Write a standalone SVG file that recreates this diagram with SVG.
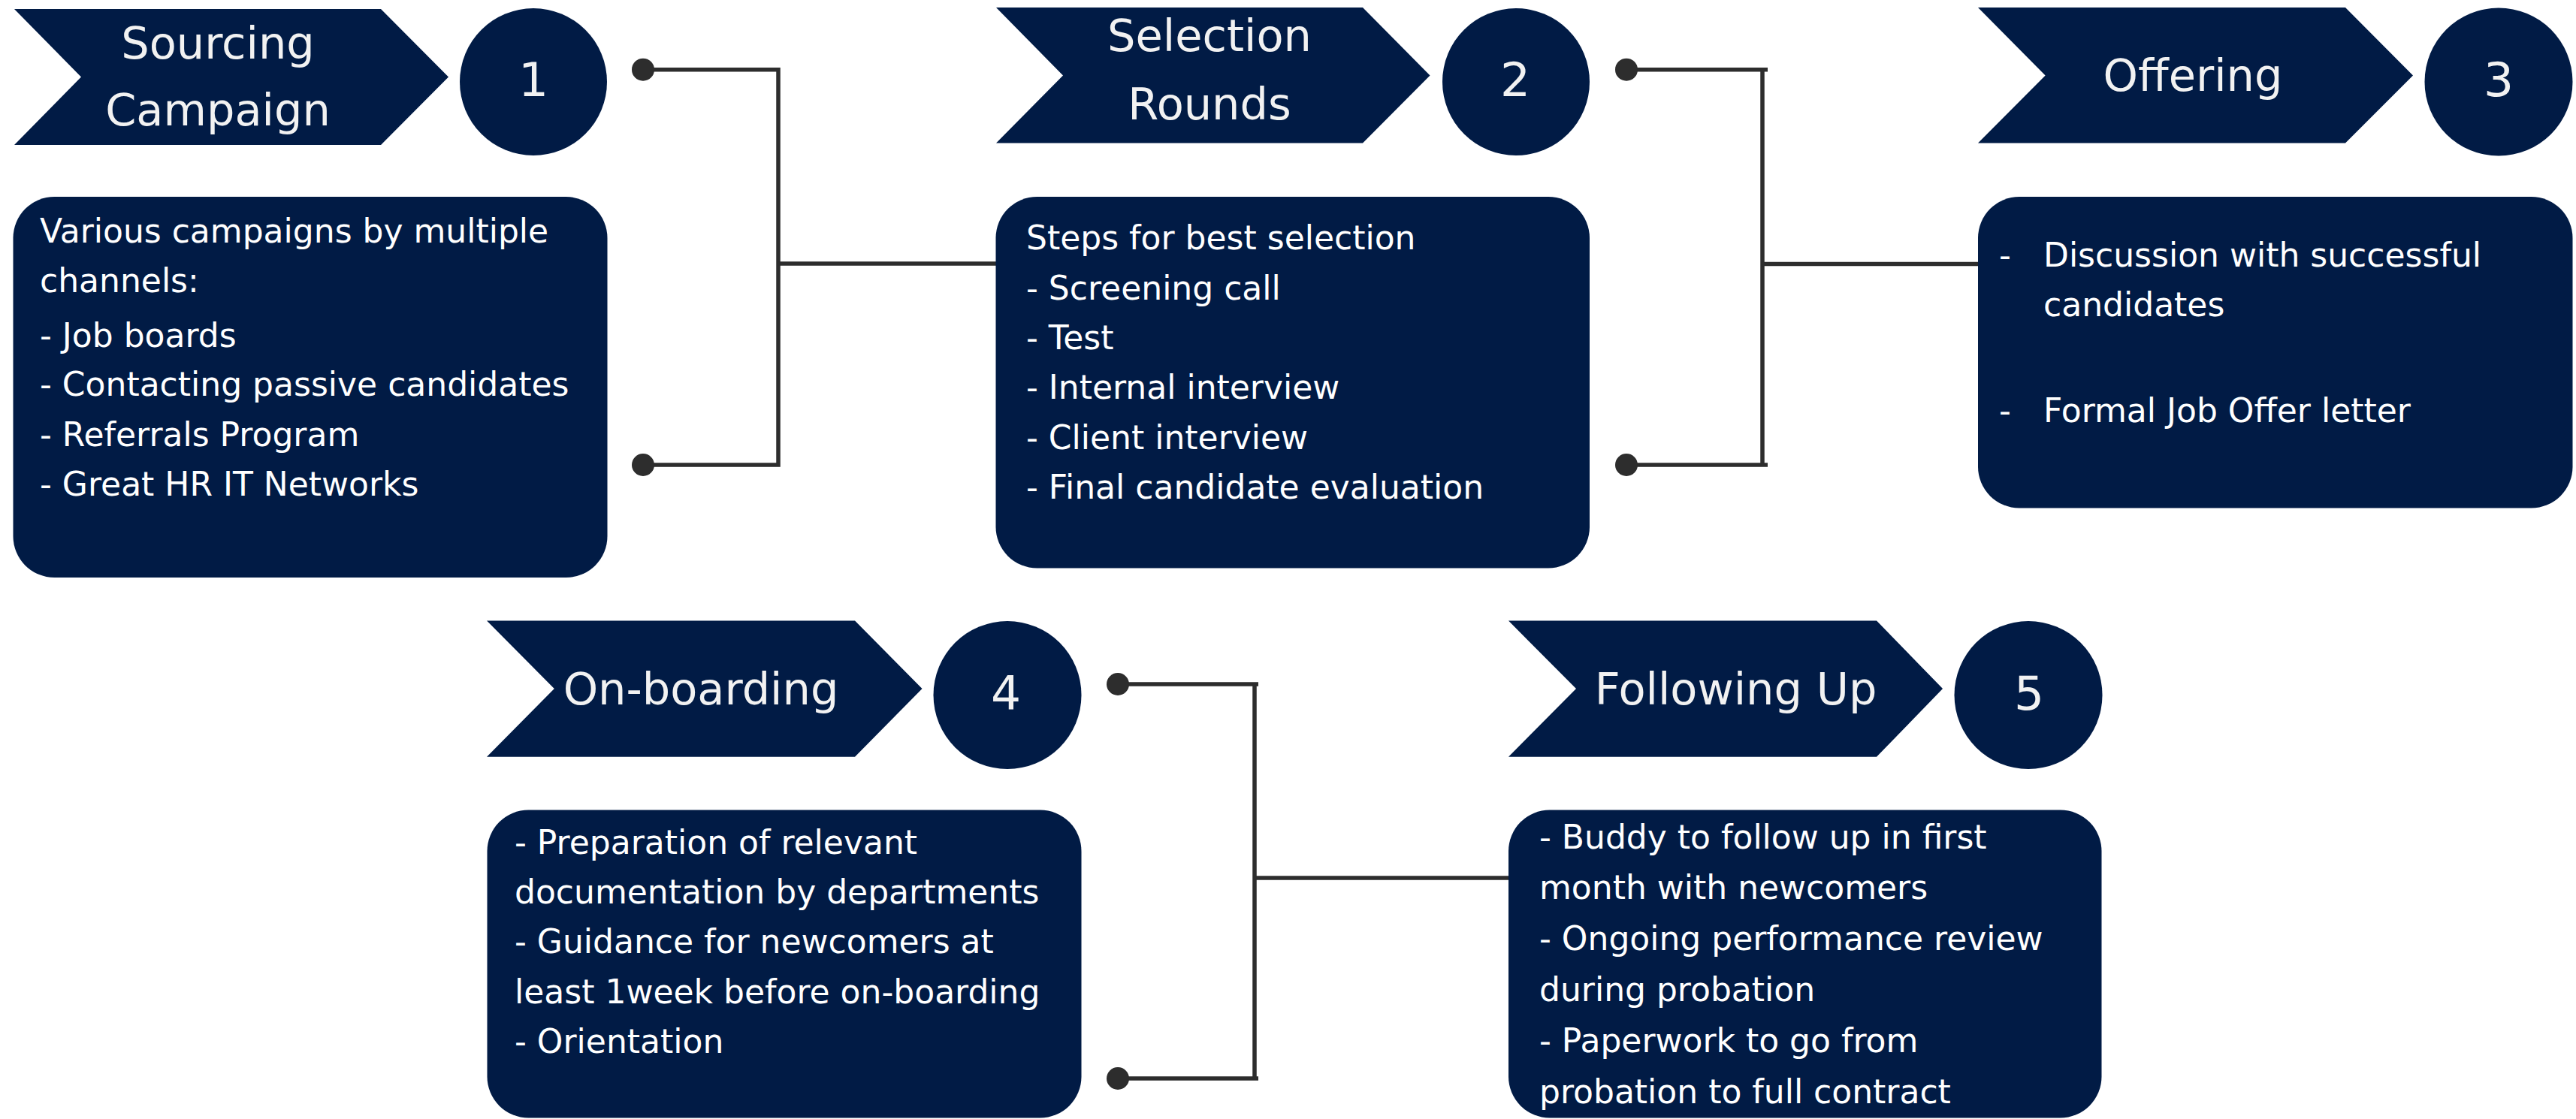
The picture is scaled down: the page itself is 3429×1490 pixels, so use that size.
<svg xmlns="http://www.w3.org/2000/svg" width="3429" height="1490" viewBox="0 0 3429 1490">
<style>
.shape{fill:#011b45}
.title{font-family:"DejaVu Sans","Liberation Sans",sans-serif;font-size:59px;fill:#f2f2f2;text-anchor:middle}
.num{font-family:"DejaVu Sans","Liberation Sans",sans-serif;font-size:63px;fill:#f2f2f2;text-anchor:middle}
.body{font-family:"DejaVu Sans","Liberation Sans",sans-serif;font-size:44px;fill:#ffffff}
.conn{stroke:#2d2d2d;stroke-width:5.5;fill:none}
.dot{fill:#2d2d2d}
</style>
<rect width="3429" height="1490" fill="#ffffff"/>
<g id="connectors">
  <g id="conn-1">
    <polyline class="conn" points="856,92.7 1036,92.7 1036,619 856,619"/>
    <line class="conn" x1="1036" y1="351" x2="1327" y2="351"/>
    <circle class="dot" cx="856" cy="92.7" r="15"/>
    <circle class="dot" cx="856" cy="619" r="15"/>
  </g>
  <g id="conn-2">
    <line class="conn" x1="2165" y1="92.7" x2="2353" y2="92.7"/>
    <line class="conn" x1="2165" y1="619" x2="2353" y2="619"/>
    <line class="conn" x1="2346" y1="92.7" x2="2346" y2="619"/>
    <line class="conn" x1="2346" y1="351.5" x2="2643" y2="351.5"/>
    <circle class="dot" cx="2165" cy="92.7" r="15"/>
    <circle class="dot" cx="2165" cy="619" r="15"/>
  </g>
  <g id="conn-4">
    <line class="conn" x1="1488" y1="911" x2="1675" y2="911"/>
    <line class="conn" x1="1488" y1="1436" x2="1675" y2="1436"/>
    <line class="conn" x1="1670" y1="911" x2="1670" y2="1436"/>
    <line class="conn" x1="1670" y1="1169" x2="2009" y2="1169"/>
    <circle class="dot" cx="1488" cy="911" r="15"/>
    <circle class="dot" cx="1488" cy="1436" r="15"/>
  </g>
</g>
<g id="step1">
  <polygon class="shape" points="19,12 507,12 597,102.5 507,193 19,193 108,102.5"/>
  <text class="title" x="290" y="77.5">Sourcing</text>
  <text class="title" x="290" y="167">Campaign</text>
  <circle class="shape" cx="710" cy="109" r="98"/>
  <text class="num" x="710" y="128">1</text>
</g>
<g id="box1">
  <rect class="shape" x="17.5" y="262" width="791" height="507" rx="55" ry="55"/>
  <text class="body" x="53">
    <tspan x="53" y="323">Various campaigns by multiple</tspan>
    <tspan x="53" y="389">channels:</tspan>
    <tspan x="53" y="461.5">- Job boards</tspan>
    <tspan x="53" y="527">- Contacting passive candidates</tspan>
    <tspan x="53" y="593.5">- Referrals Program</tspan>
    <tspan x="53" y="660">- Great HR IT Networks</tspan>
  </text>
</g>
<g id="step2">
  <polygon class="shape" points="1326,10 1814,10 1903.5,100.5 1814,190.5 1326,190.5 1415,100.5"/>
  <text class="title" x="1610" y="68">Selection</text>
  <text class="title" x="1610" y="159">Rounds</text>
  <circle class="shape" cx="2018" cy="109" r="98"/>
  <text class="num" x="2017" y="128">2</text>
</g>
<g id="box2">
  <rect class="shape" x="1325.5" y="262" width="790.5" height="494.5" rx="55" ry="55"/>
  <text class="body">
    <tspan x="1366" y="332">Steps for best selection</tspan>
    <tspan x="1366" y="398.5">- Screening call</tspan>
    <tspan x="1366" y="465">- Test</tspan>
    <tspan x="1366" y="531">- Internal interview</tspan>
    <tspan x="1366" y="597.5">- Client interview</tspan>
    <tspan x="1366" y="664">- Final candidate evaluation</tspan>
  </text>
</g>
<g id="step3">
  <polygon class="shape" points="2633,10 3122,10 3212,100.5 3122,190.5 2633,190.5 2722.6,100.5"/>
  <text class="title" x="2919" y="121">Offering</text>
  <circle class="shape" cx="3326" cy="109" r="98.5"/>
  <text class="num" x="3326" y="128">3</text>
</g>
<g id="box3">
  <rect class="shape" x="2633" y="262" width="791.5" height="414.5" rx="55" ry="55"/>
  <text class="body">
    <tspan x="2661" y="354.5">-</tspan>
    <tspan x="2720" y="354.5">Discussion with successful</tspan>
    <tspan x="2720" y="421">candidates</tspan>
    <tspan x="2661" y="561.5">-</tspan>
    <tspan x="2720" y="561.5">Formal Job Offer letter</tspan>
  </text>
</g>
<g id="step4">
  <polygon class="shape" points="648,826.6 1138,826.6 1227.5,917 1138,1007.8 648,1007.8 737.8,917"/>
  <text class="title" x="933" y="937.5">On-boarding</text>
  <circle class="shape" cx="1341" cy="925.5" r="98.5"/>
  <text class="num" x="1339" y="944.5">4</text>
</g>
<g id="box4">
  <rect class="shape" x="648.5" y="1078.5" width="791" height="410" rx="55" ry="55"/>
  <text class="body">
    <tspan x="685" y="1136.5">- Preparation of relevant</tspan>
    <tspan x="685" y="1202.5">documentation by departments</tspan>
    <tspan x="685" y="1268.5">- Guidance for newcomers at</tspan>
    <tspan x="685" y="1336">least 1week before on-boarding</tspan>
    <tspan x="685" y="1401.5">- Orientation</tspan>
  </text>
</g>
<g id="step5">
  <polygon class="shape" points="2008,826.6 2498,826.6 2586,917 2498,1007.8 2008,1007.8 2098,917"/>
  <text class="title" x="2310.5" y="937.5">Following Up</text>
  <circle class="shape" cx="2700" cy="925.5" r="98.5"/>
  <text class="num" x="2701" y="944.5">5</text>
</g>
<g id="box5">
  <rect class="shape" x="2008" y="1078.5" width="789.5" height="410" rx="55" ry="55"/>
  <text class="body">
    <tspan x="2049" y="1130">- Buddy to follow up in first</tspan>
    <tspan x="2049" y="1197">month with newcomers</tspan>
    <tspan x="2049" y="1265">- Ongoing performance review</tspan>
    <tspan x="2049" y="1333">during probation</tspan>
    <tspan x="2049" y="1401">- Paperwork to go from</tspan>
    <tspan x="2049" y="1469">probation to full contract</tspan>
  </text>
</g>
</svg>
